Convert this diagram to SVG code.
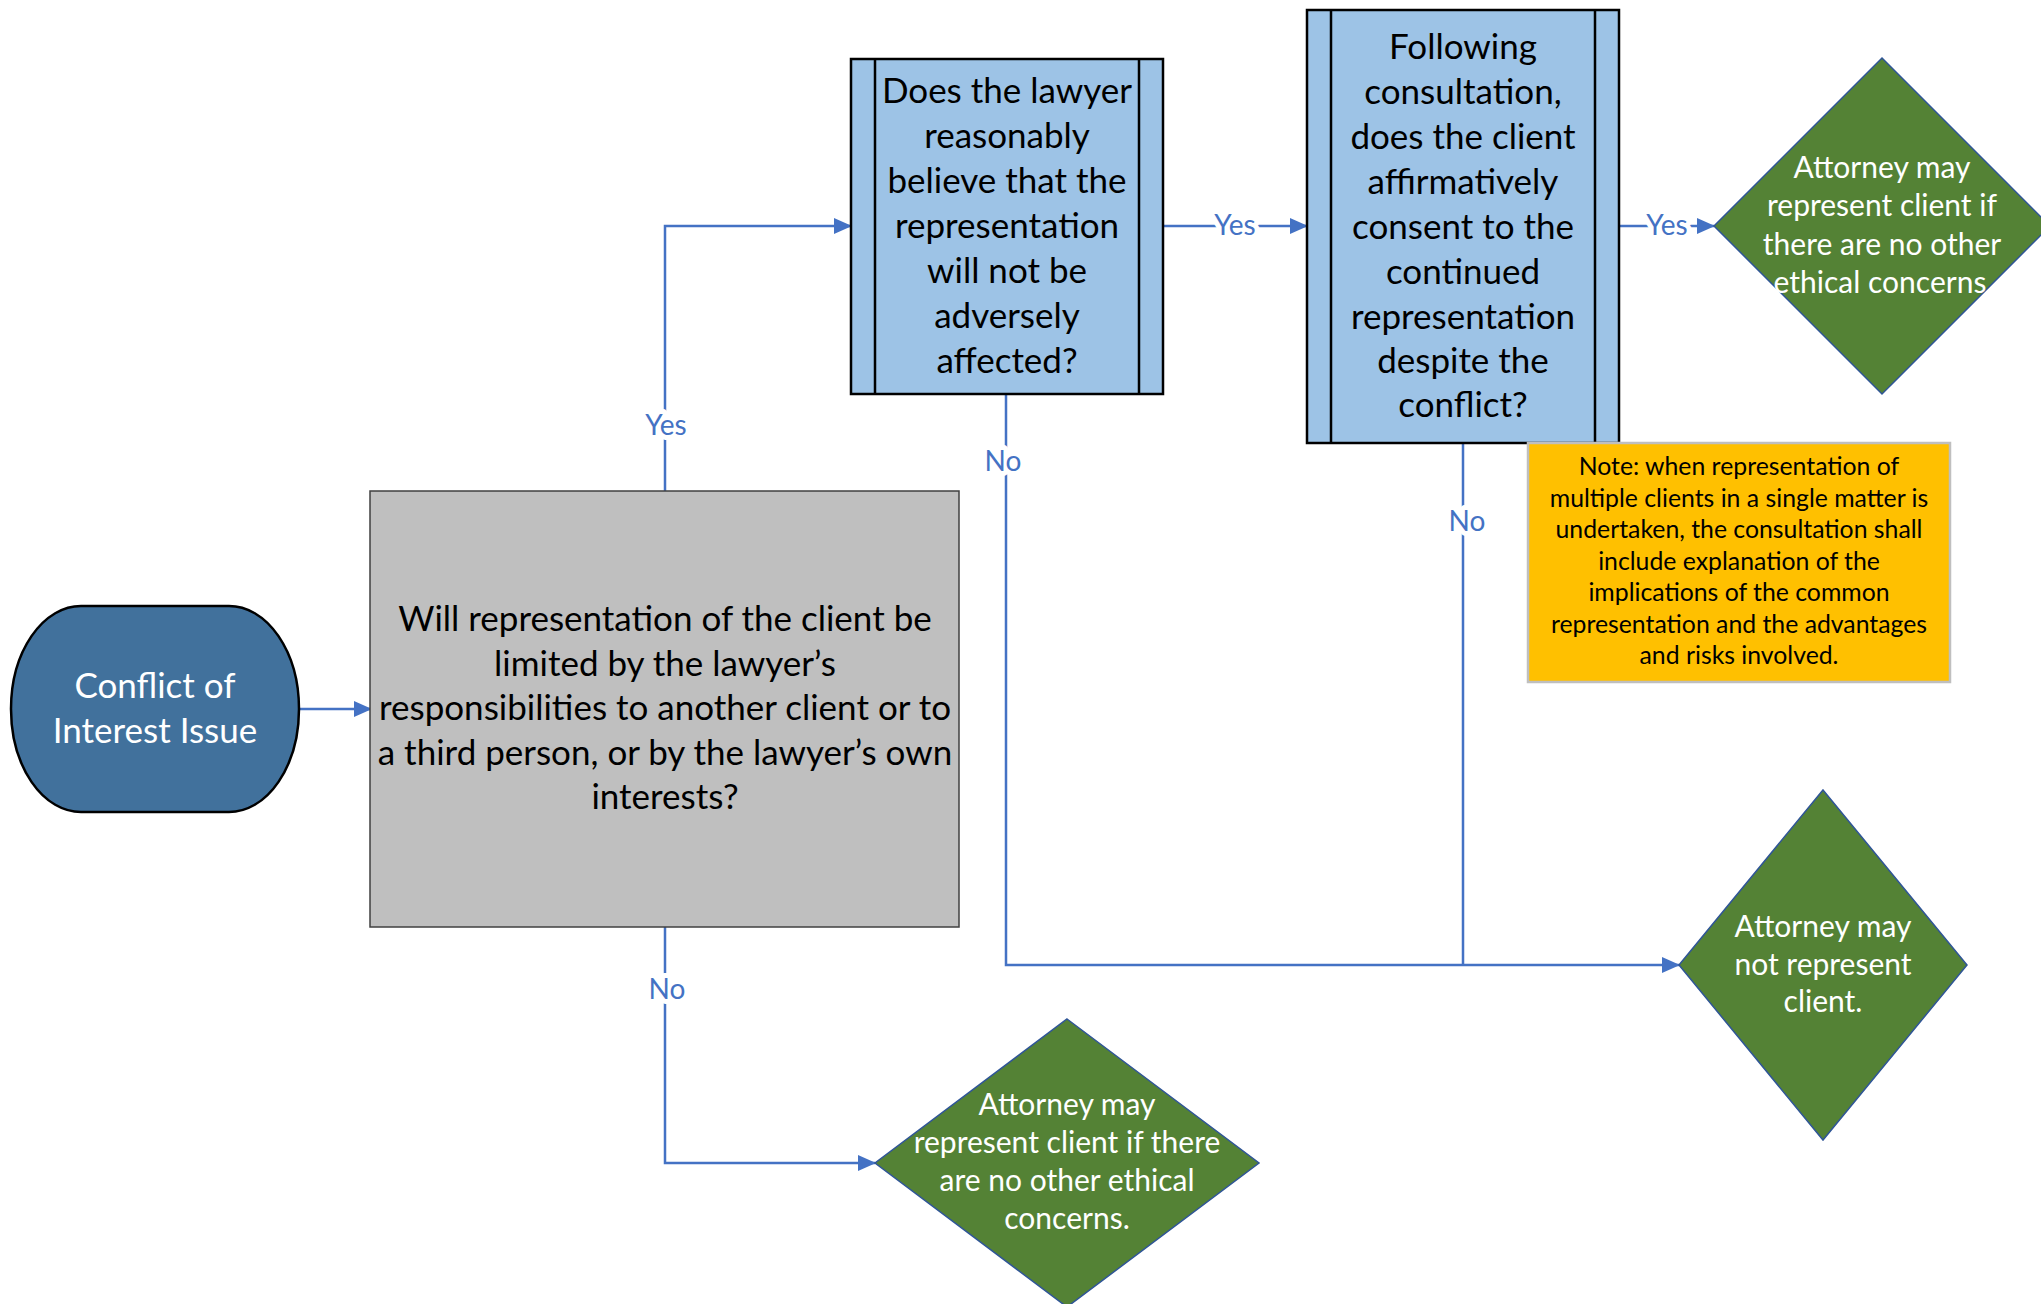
<svg xmlns="http://www.w3.org/2000/svg" width="2041" height="1304" viewBox="0 0 2041 1304">
  <defs>
    <marker id="arrow" markerUnits="userSpaceOnUse" markerWidth="18" markerHeight="16" viewBox="0 0 18 16" refX="17" refY="8" orient="auto">
      <path d="M0,0 L18,8 L0,16 Z" fill="#4472C4"/>
    </marker>
    <style>
      text { font-family: Lato, "Liberation Sans", sans-serif; text-anchor: middle; }
      .t-main { font-size: 35px; fill: #000; }
      .t-white { font-size: 35px; fill: #fff; }
      .t-diam { font-size: 30px; fill: #fff; }
      .t-note { font-size: 24.8px; fill: #000; }
      .lbl { font-size: 28px; fill: #4472C4; stroke: #fff; stroke-width: 10px; paint-order: stroke; stroke-linejoin: round; }
      .conn { fill: none; stroke: #4472C4; stroke-width: 2.5; }
      .proc { fill: #9DC3E6; stroke: #000; stroke-width: 2.5; }
      .bar { stroke: #000; stroke-width: 2.5; }
      .end { fill: #548235; stroke: #2F5597; stroke-width: 1.5; }
    </style>
  </defs>

  <rect width="2041" height="1304" fill="#fff"/>

  <!-- connectors -->
  <g id="connectors">
    <path class="conn" d="M299,709 H371" marker-end="url(#arrow)"/>
    <path class="conn" d="M665,491 V226 H851" marker-end="url(#arrow)"/>
    <path class="conn" d="M1163,226 H1307" marker-end="url(#arrow)"/>
    <path class="conn" d="M1619,226 H1714" marker-end="url(#arrow)"/>
    <path class="conn" d="M1006,394 V965 H1679" marker-end="url(#arrow)"/>
    <path class="conn" d="M1463,443 V965"/>
    <path class="conn" d="M665,927 V1163 H875" marker-end="url(#arrow)"/>
    <text class="lbl" x="666" y="435">Yes</text>
    <text class="lbl" x="1235" y="235">Yes</text>
    <text class="lbl" x="1667" y="235">Yes</text>
    <text class="lbl" x="1003" y="471">No</text>
    <text class="lbl" x="1467" y="531">No</text>
    <text class="lbl" x="667" y="999">No</text>
  </g>

  <!-- start terminator -->
  <g id="start">
    <rect x="11" y="606" width="288" height="206" rx="70" ry="103" fill="#41719C" stroke="#000" stroke-width="2.5"/>
    <text class="t-white" x="155" y="698">Conflict of</text>
    <text class="t-white" x="155" y="743">Interest Issue</text>
  </g>

  <!-- first question -->
  <g id="q-limited">
    <rect x="370" y="491" width="589" height="436" fill="#BFBFBF" stroke="#404040" stroke-width="1.5"/>
    <text class="t-main" x="665" y="631">Will representation of the client be</text>
    <text class="t-main" x="665" y="676">limited by the lawyer’s</text>
    <text class="t-main" x="665" y="720">responsibilities to another client or to</text>
    <text class="t-main" x="665" y="765">a third person, or by the lawyer’s own</text>
    <text class="t-main" x="665" y="809">interests?</text>
  </g>

  <!-- reasonable belief check -->
  <g id="q-belief">
    <rect class="proc" x="851" y="59" width="312" height="335"/>
    <line class="bar" x1="875" y1="59" x2="875" y2="394"/>
    <line class="bar" x1="1139" y1="59" x2="1139" y2="394"/>
    <text class="t-main" x="1007" y="103">Does the lawyer</text>
    <text class="t-main" x="1007" y="148">reasonably</text>
    <text class="t-main" x="1007" y="193">believe that the</text>
    <text class="t-main" x="1007" y="238">representation</text>
    <text class="t-main" x="1007" y="283">will not be</text>
    <text class="t-main" x="1007" y="328">adversely</text>
    <text class="t-main" x="1007" y="373">affected?</text>
  </g>

  <!-- client consent check -->
  <g id="q-consent">
    <rect class="proc" x="1307" y="10" width="312" height="433"/>
    <line class="bar" x1="1331" y1="10" x2="1331" y2="443"/>
    <line class="bar" x1="1595" y1="10" x2="1595" y2="443"/>
    <text class="t-main" x="1463" y="59">Following</text>
    <text class="t-main" x="1463" y="104">consultation,</text>
    <text class="t-main" x="1463" y="149">does the client</text>
    <text class="t-main" x="1463" y="194">affirmatively</text>
    <text class="t-main" x="1463" y="239">consent to the</text>
    <text class="t-main" x="1463" y="284">continued</text>
    <text class="t-main" x="1463" y="329">representation</text>
    <text class="t-main" x="1463" y="373">despite the</text>
    <text class="t-main" x="1463" y="417">conflict?</text>
  </g>

  <!-- outcome: may represent (after consent) -->
  <g id="end-consent">
    <polygon class="end" points="1882,58 2050,226 1882,394 1714,226"/>
    <text class="t-diam" x="1882" y="178">Attorney may</text>
    <text class="t-diam" x="1882" y="216">represent client if</text>
    <text class="t-diam" x="1882" y="255">there are no other</text>
    <text class="t-diam" x="1880" y="293">ethical concerns</text>
  </g>

  <!-- note on multiple clients -->
  <g id="note">
    <rect x="1528" y="443" width="422" height="239" fill="#FFC000" stroke="#BFBFBF" stroke-width="2.5"/>
    <text class="t-note" x="1739" y="475">Note: when representation of</text>
    <text class="t-note" x="1739" y="507">multiple clients in a single matter is</text>
    <text class="t-note" x="1739" y="538">undertaken, the consultation shall</text>
    <text class="t-note" x="1739" y="570">include explanation of the</text>
    <text class="t-note" x="1739" y="601">implications of the common</text>
    <text class="t-note" x="1739" y="633">representation and the advantages</text>
    <text class="t-note" x="1739" y="664">and risks involved.</text>
  </g>

  <!-- outcome: may not represent -->
  <g id="end-refuse">
    <polygon class="end" points="1823,790 1967,965 1823,1140 1679,965"/>
    <text class="t-diam" x="1823" y="937">Attorney may</text>
    <text class="t-diam" x="1823" y="975">not represent</text>
    <text class="t-diam" x="1823" y="1012">client.</text>
  </g>

  <!-- outcome: no conflict -->
  <g id="end-clear">
    <polygon class="end" points="1067,1019 1259,1163 1067,1307 875,1163"/>
    <text class="t-diam" x="1067" y="1115">Attorney may</text>
    <text class="t-diam" x="1067" y="1153">represent client if there</text>
    <text class="t-diam" x="1067" y="1191">are no other ethical</text>
    <text class="t-diam" x="1067" y="1229">concerns.</text>
  </g>
</svg>
